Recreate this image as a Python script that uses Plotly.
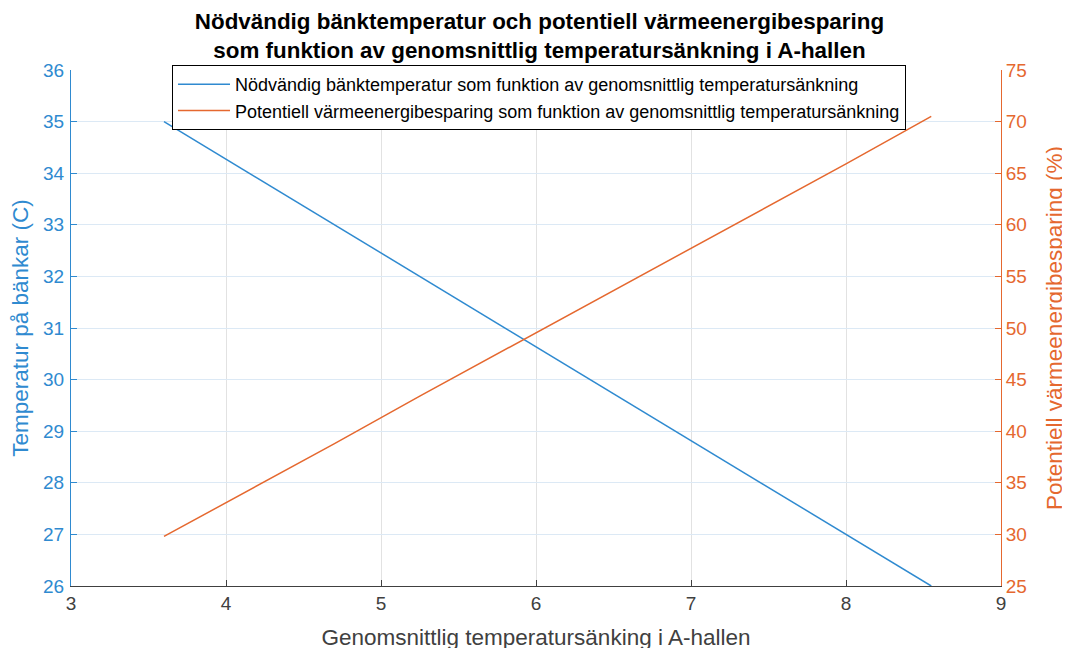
import plotly.graph_objects as go

x_sank = [3.6, 4.15, 4.7, 5.25, 5.8, 6.35, 6.9, 7.45, 8.0, 8.55]
bank_temp = [35, 34, 33, 32, 31, 30, 29, 28, 27, 26]
besparing = [29.8, 34.3, 38.8, 43.4, 47.9, 52.4, 56.9, 61.4, 65.9, 70.5]

blue = "#2F8AD0"
orange = "#E5682F"
dark = "#404040"
font = "Liberation Sans, Arial, sans-serif"

fig = go.Figure()
fig.add_trace(go.Scatter(x=x_sank, y=bank_temp, mode="lines", line=dict(color=blue, width=1.5),
                         name="Nödvändig bänktemperatur som funktion av genomsnittlig temperatursänkning"))
fig.add_trace(go.Scatter(x=x_sank, y=besparing, mode="lines", line=dict(color=orange, width=1.5),
                         name="Potentiell värmeenergibesparing som funktion av genomsnittlig temperatursänkning",
                         yaxis="y2"))

fig.update_layout(
    width=1070, height=648,
    margin=dict(l=63, r=77, t=62, b=70),
    paper_bgcolor="white", plot_bgcolor="white",
    font=dict(family=font, size=19, color=dark),
    title=dict(text="<b>Nödvändig bänktemperatur och potentiell värmeenergibesparing<br>som funktion av genomsnittlig temperatursänkning i A-hallen</b>",
               x=0.4967, xanchor="center", y=0.968, yanchor="middle",
               font=dict(family=font, size=22.4, color="black")),
    xaxis=dict(range=[3, 9], dtick=1, showgrid=True, gridcolor="#e2e2e2",
               showline=True, linecolor=dark, linewidth=1, mirror=False,
               ticks="inside", ticklen=6, tickcolor=dark, zeroline=False, automargin=False,
               tickfont=dict(size=19, color=dark),
               title=dict(text="Genomsnittlig temperatursänking i A-hallen", font=dict(size=22.5, color=dark), standoff=16)),
    yaxis=dict(range=[26, 36], dtick=1, showgrid=True, gridcolor="#dce9f5",
               showline=True, linecolor=blue, linewidth=1, zeroline=False, automargin=False,
               ticks="inside", ticklen=6, tickcolor=blue, ticklabelstandoff=2,
               tickfont=dict(size=19, color=blue),
               title=dict(text="Temperatur på bänkar (C)", font=dict(size=22.5, color=blue), standoff=12)),
    yaxis2=dict(range=[25, 75], dtick=5, overlaying="y", side="right", showgrid=False,
                showline=True, linecolor=orange, linewidth=1, zeroline=False, automargin=False,
                ticks="inside", ticklen=6, tickcolor=orange,
                tickfont=dict(size=19, color=orange),
                title=dict(text="Potentiell värmeenergibesparing (%)", font=dict(size=22.5, color=orange), standoff=20)),
    legend=dict(x=0.1086, xanchor="left", y=1.0097, yanchor="top",
                bgcolor="white", bordercolor="black", borderwidth=1,
                font=dict(family=font, size=18, color="black"),
                tracegroupgap=0, itemwidth=52),
    showlegend=True,
)

fig.write_html("out.html")
